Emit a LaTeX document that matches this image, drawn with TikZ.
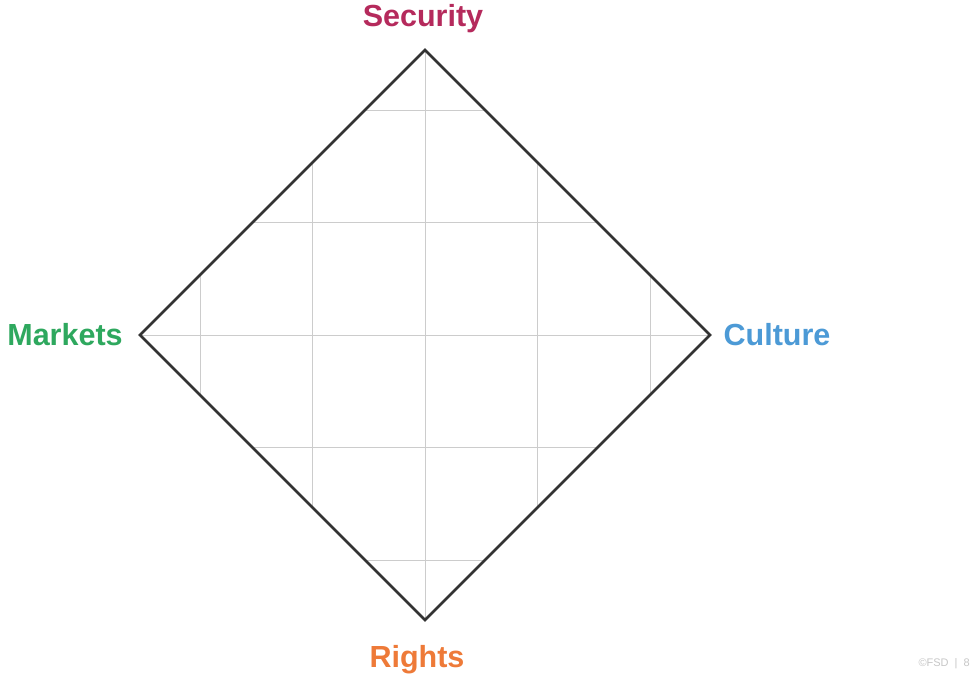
\documentclass[tikz,border=0pt]{standalone}
\usepackage{fontspec}
\setmainfont{Liberation Sans}
\begin{document}
\begin{tikzpicture}[x=1pt,y=-1pt,
  axislabel/.style={font=\bfseries\fontsize{30.5}{34}\selectfont, inner sep=0pt},
  frame/.style={draw=black!80, line width=2.6pt, line join=miter},
  gridline/.style={draw=black!20, line width=1pt}]
\useasboundingbox[fill=white] (0,0) rectangle (974,677);
\definecolor{secred}{HTML}{B52A5C}
\definecolor{mktgreen}{HTML}{2EA85E}
\definecolor{culblue}{HTML}{4C9AD6}
\definecolor{rgtorange}{HTML}{EE7A38}

% corners of the diamond
\coordinate (N) at (425,50);
\coordinate (E) at (710,335);
\coordinate (S) at (425,620);
\coordinate (W) at (140,335);
\coordinate (C) at (425,335);

% grid clipped to the diamond
\begin{scope}
  \clip (N) -- (E) -- (S) -- (W) -- cycle;
  \foreach \d in {-225,-112.5,0,112.5,225} {
    \draw[gridline] ([xshift=\d pt]C) ++(0,-300) -- ++(0,600);
    \draw[gridline] ([yshift=\d pt]C) ++(-300,0) -- ++(600,0);
  }
\end{scope}

\draw[frame] (N) -- (E) -- (S) -- (W) -- cycle;

\node[axislabel, text=secred] (security) at (423,19) {Security};
\node[axislabel, text=mktgreen] (markets) at (65,335) {Markets};
\node[axislabel, text=culblue] (culture) at (777,335) {Culture};
\node[axislabel, text=rgtorange] (rights) at (417,660) {Rights};

\node[font=\fontsize{11}{12}\selectfont, text=black!22, anchor=east, inner sep=0pt] (footer) at (970,664) {©FSD \;|\; 8};
\end{tikzpicture}
\end{document}
